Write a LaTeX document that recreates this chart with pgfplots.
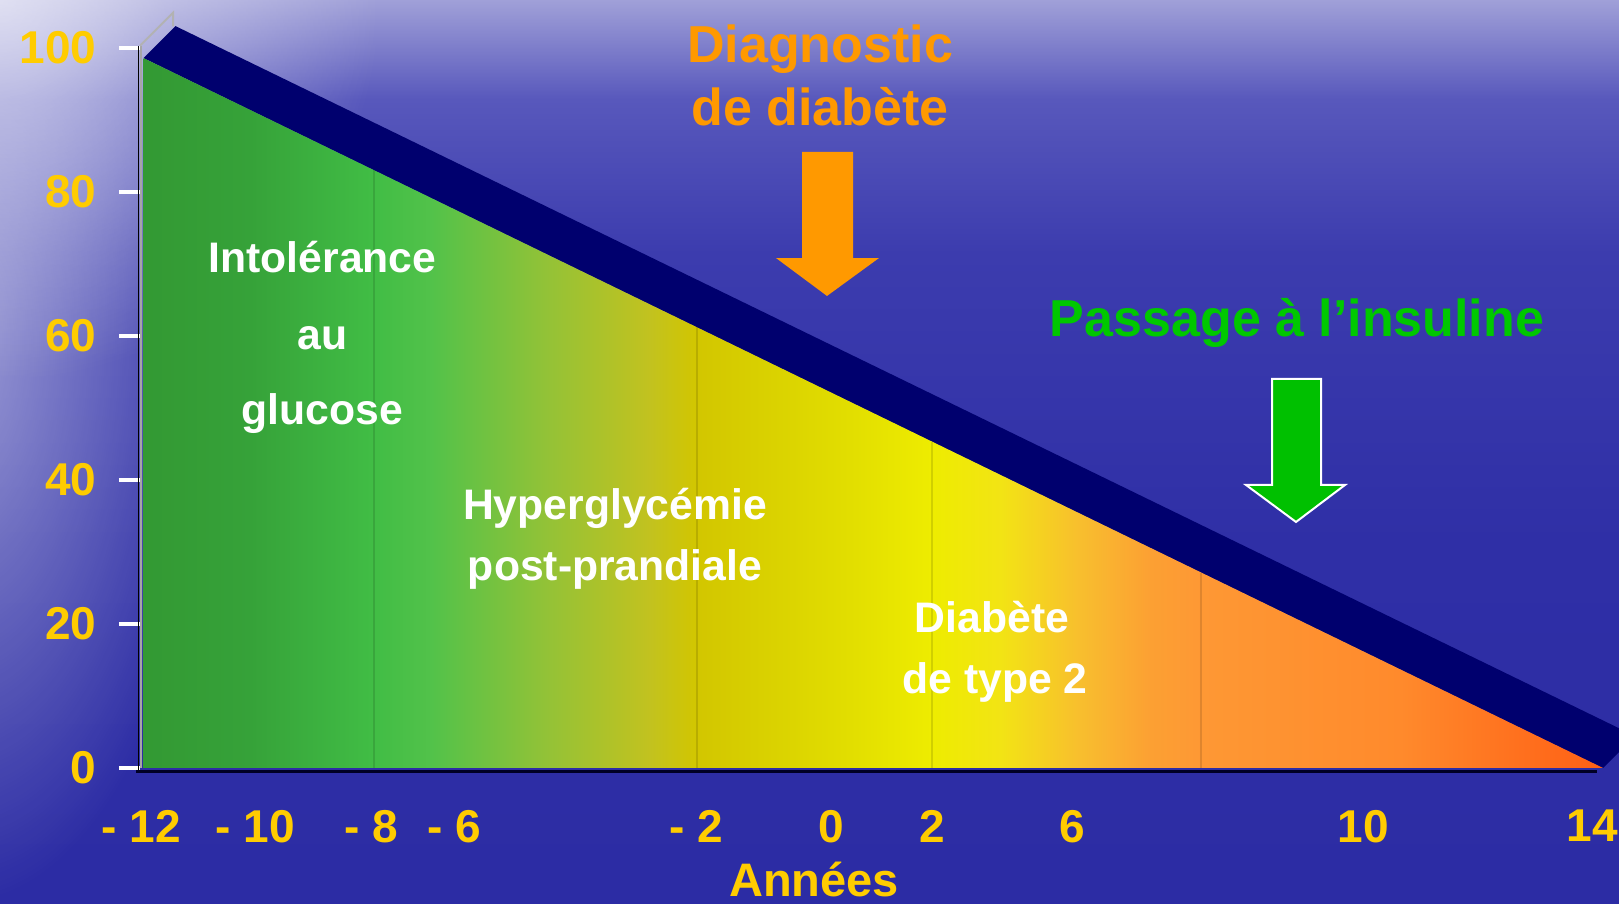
\documentclass[border=0pt]{standalone}
\usepackage{fontspec}
\setmainfont{Liberation Sans}
\usepackage{pgfplots}
\pgfplotsset{compat=1.18}
\usetikzlibrary{fadings}

\definecolor{gold}{RGB}{255,204,0}
\definecolor{diagorange}{RGB}{255,153,0}
\definecolor{passgreen}{RGB}{0,200,0}
\definecolor{arrowgreen}{RGB}{0,192,0}
\definecolor{navy}{RGB}{0,0,110}

\tikzfading[name=myglow, inner color=transparent!0, outer color=transparent!100]

% background colours
\definecolor{b0}{RGB}{44,44,164}
\definecolor{b1}{RGB}{47,47,166}
\definecolor{b2}{RGB}{60,60,174}
\definecolor{b3}{RGB}{88,88,188}
\definecolor{b4}{RGB}{160,160,216}
\pgfdeclareverticalshading{bggrad}{100bp}{color(0bp)=(b0); color(25bp)=(b0); color(45bp)=(b1); color(61bp)=(b2); color(69.5bp)=(b3); color(75bp)=(b4); color(100bp)=(b4)}

% gradient of the front face
\definecolor{g0}{RGB}{51,153,51}
\definecolor{g1}{RGB}{54,162,57}
\definecolor{g2}{RGB}{65,189,69}
\definecolor{g3}{RGB}{82,194,74}
\definecolor{g4}{RGB}{149,194,54}
\definecolor{g5}{RGB}{194,194,31}
\definecolor{g6}{RGB}{210,198,0}
\definecolor{g7}{RGB}{226,222,0}
\definecolor{g8}{RGB}{238,236,0}
\definecolor{g9}{RGB}{242,228,20}
\definecolor{g10}{RGB}{248,190,46}
\definecolor{g11}{RGB}{252,160,51}
\definecolor{g12}{RGB}{254,152,52}
\definecolor{g13}{RGB}{255,138,44}
\definecolor{g14}{RGB}{255,116,32}
\definecolor{g15}{RGB}{255,96,21}
\pgfdeclarehorizontalshading{trigrad}{100bp}{color(0bp)=(g0); color(25bp)=(g0); color(28.65bp)=(g1); color(32.9bp)=(g2); color(34.85bp)=(g3); color(38.95bp)=(g4); color(42.35bp)=(g5); color(43.95bp)=(g6); color(49.2bp)=(g7); color(52bp)=(g8); color(54.35bp)=(g9); color(57.1bp)=(g10); color(59.5bp)=(g11); color(61.25bp)=(g12); color(68.05bp)=(g13); color(71.5bp)=(g14); color(75bp)=(g15); color(100bp)=(g15)}

\newcommand{\fs}[1]{\fontsize{#1pt}{#1pt}\selectfont}

\begin{document}
\begin{tikzpicture}
\useasboundingbox (0pt,0pt) rectangle (1619pt,904pt);
\clip (0pt,0pt) rectangle (1619pt,904pt);
\shade[shading=bggrad] (0pt,0pt) rectangle (1619pt,904pt);
% lighter water on the left
\fill[white, opacity=0.5, path fading=myglow] (-40pt,560pt) ellipse (260pt and 560pt);
\fill[white, opacity=0.6, path fading=myglow] (0pt,904pt) circle (380pt);

\begin{axis}[
  at={(140pt,136pt)}, anchor=south west,
  scale only axis, width=1463pt, height=720pt,
  xmin=140, xmax=1603, ymin=0, ymax=100,
  clip=false,
  axis x line*=bottom, axis y line*=left,
  axis line style={draw=none},
  tick align=outside,
  major tick length=21pt,
  ytick={0,20,40,60,80,100},
  y tick style={white, line width=4.5pt},
  x tick style={draw=none},
  % x positions follow the uneven spacing of the original year axis
  xtick={141.5,255,371,454,696,831,932,1072,1363,1592},
  xticklabels={- 12,- 10,- 8,- 6,- 2,0,2,6,10,14},
  ticklabel style={text=gold, font=\bfseries\fs{46}},
  /pgf/number format/assume math mode=true,
  yticklabel style={xshift=-19pt},
  xticklabel style={yshift=-17.5pt},
  xlabel={Années},
  xlabel style={at={(axis description cs:0.4607,-0.178)}, anchor=base, text=gold, font=\bfseries\fs{47}},
]
% top (3D) face of the band
\addplot[draw=none, fill=navy] coordinates {(143.5,98.6) (1603,0) (1635,4.44) (175.5,103.04)} -- cycle;
% front face with colour gradient
\addplot[draw=none, shade, shading=trigrad] coordinates {(143.5,98.6) (1603,0) (143.5,0)} -- cycle;

% faint separators
\draw[black, opacity=0.12, line width=1.5pt] (axis cs:374,0) -- (axis cs:374,83.0);
\draw[black, opacity=0.12, line width=1.5pt] (axis cs:697,0) -- (axis cs:697,61.2);
\draw[black, opacity=0.12, line width=1.5pt] (axis cs:932,0) -- (axis cs:932,45.3);
\draw[black, opacity=0.12, line width=1.5pt] (axis cs:1201,0) -- (axis cs:1201,27.1);

% axis lines / frame
\draw[black, line width=1.2pt] (axis cs:138.6,-0.3) -- (axis cs:138.6,100.3);
\draw[gray!70, line width=2pt] (axis cs:141,0) -- (axis cs:141,100.3);
\draw[black!85!blue, line width=3pt] (axis cs:136,-0.55) -- (axis cs:1597,-0.55);
\draw[gray!60, line width=2pt] (axis cs:140,100.3) -- (axis cs:173,104.9) -- (axis cs:173,103.0);

% arrows
\fill[diagorange] (axis cs:802,85.56) -- (axis cs:853,85.56) -- (axis cs:853,70.83) -- (axis cs:879,70.83) -- (axis cs:827,65.56) -- (axis cs:776,70.83) -- (axis cs:802,70.83) -- cycle;
\filldraw[fill=arrowgreen, draw=white, line width=2pt] (axis cs:1272,54.03) -- (axis cs:1321,54.03) -- (axis cs:1321,39.31) -- (axis cs:1345,39.31) -- (axis cs:1296,34.17) -- (axis cs:1246,39.31) -- (axis cs:1272,39.31) -- cycle;

% texts
\node[anchor=base, text=white, font=\bfseries\fs{42.7}] at (axis cs:322.5,68.75) {Intolérance};
\node[anchor=base, text=white, font=\bfseries\fs{42.7}] at (axis cs:322.5,58.19) {au};
\node[anchor=base, text=white, font=\bfseries\fs{42.7}] at (axis cs:322.5,47.64) {glucose};
\node[anchor=base, text=white, font=\bfseries\fs{42.7}] at (axis cs:615,34.57) {Hyperglycémie};
\node[anchor=base, text=white, font=\bfseries\fs{42.7}] at (axis cs:615,26.07) {post-prandiale};
\node[anchor=base, text=white, font=\bfseries\fs{42.7}] at (axis cs:992,18.88) {Diabète};
\node[anchor=base, text=white, font=\bfseries\fs{42.7}] at (axis cs:995,10.3) {de type 2};
\node[anchor=base, text=diagorange, font=\bfseries\fs{52}] at (axis cs:820,97.92) {Diagnostic};
\node[anchor=base, text=diagorange, font=\bfseries\fs{52}] at (axis cs:820,89.17) {de diabète};
\node[anchor=base, text=passgreen, font=\bfseries\fs{52}] at (axis cs:1297,59.9) {Passage à l’insuline};
\end{axis}
\end{tikzpicture}
\end{document}
